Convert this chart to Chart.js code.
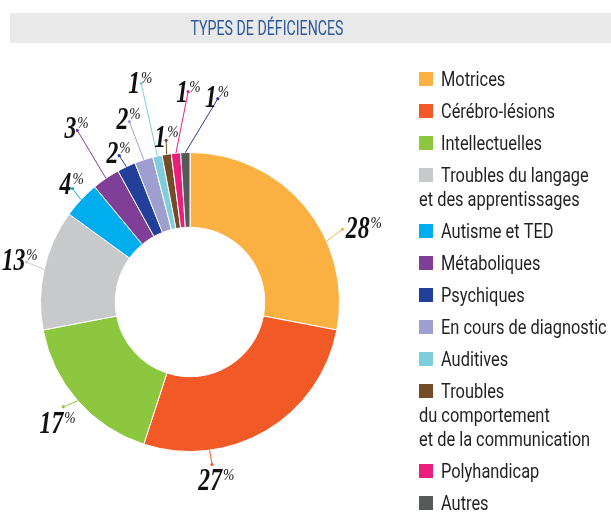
<!DOCTYPE html>
<html>
<head>
<meta charset="utf-8">
<script src="https://cdn.jsdelivr.net/npm/chart.js@4"></script>
<style>
  html, body { margin: 0; padding: 0; background: #fff; }
</style>
</head>
<body>
<canvas id="chart" width="611" height="514"></canvas>
<script>
const title = "TYPES DE DÉFICIENCES";

// legend labels, one entry per line
const categories = [
  ["Motrices"],
  ["Cérébro-lésions"],
  ["Intellectuelles"],
  ["Troubles du langage", "et des apprentissages"],
  ["Autisme et TED"],
  ["Métaboliques"],
  ["Psychiques"],
  ["En cours de diagnostic"],
  ["Auditives"],
  ["Troubles", "du comportement", "et de la communication"],
  ["Polyhandicap"],
  ["Autres"]
];
const shares = [28, 27, 17, 13, 4, 3, 2, 2, 1, 1, 1, 1];
const colors = [
  "#fbb042", "#f15a27", "#8dc63f", "#c8c9cb", "#00aeef", "#7f3f98",
  "#22409a", "#9f9fcf", "#80cedb", "#754c28", "#ec1e7c", "#58595b"
];

// leader layout: where it leaves the slice (fraction along the arc),
// where the dot sits (clock angle, radius as multiple of the outer radius),
// and the number's right edge / baseline offset from the dot
const leaders = [
  { at: 0.655, angle: 64.5, r: 1.13, dx: 27, dy: 9 },
  { at: 0.737, angle: 172.3, r: 1.097, dx: 10, dy: 25 },
  { at: 0.5, angle: 230.4, r: 1.10, dx: 0, dy: 26 },
  { at: 0.5, angle: 283.7, r: 1.127, dx: -1, dy: 8 },
  { at: 0.5, angle: 314, r: 1.093, dx: -1, dy: 6 },
  { at: 0.5, angle: 326.7, r: 1.373, dx: -1, dy: 8 },
  { at: 0.5, angle: 334.2, r: 1.087, dx: -1, dy: 7 },
  { at: 0.5, angle: 341.4, r: 1.273, dx: -1, dy: 7 },
  { at: 0.5, angle: 347.4, r: 1.5, dx: -1, dy: 10 },
  { at: 0.5, angle: 351.6, r: 1.093, dx: 0, dy: 7 },
  { at: 0.5, angle: 359.5, r: 1.407, dx: 0, dy: 10 },
  { at: 0.5, angle: 7.8, r: 1.373, dx: -1, dy: 8, color: "#2b3990" }
];

function scaledText(ctx, txt, x, y, sx, align) {
  ctx.save();
  ctx.translate(x, y);
  ctx.scale(sx, 1);
  ctx.textAlign = align;
  ctx.fillText(txt, 0, 0);
  ctx.restore();
}

const decorations = {
  id: "decorations",
  beforeDraw(chart) {
    const ctx = chart.ctx;
    ctx.save();
    ctx.fillStyle = "#e9e9ea";
    ctx.fillRect(10, 13, 601, 30);
    ctx.fillStyle = "#2e5a9a";
    ctx.font = "20px Roboto";
    ctx.textBaseline = "alphabetic";
    const w = ctx.measureText(title).width;
    scaledText(ctx, title, 267, 35, 153 / w, "center");
    ctx.restore();
  },
  afterDatasetsDraw(chart) {
    const ctx = chart.ctx;
    const meta = chart.getDatasetMeta(0);
    ctx.save();
    meta.data.forEach((arc, i) => {
      const L = leaders[i];
      const p = arc.getProps(["x", "y", "startAngle", "endAngle", "outerRadius"], true);
      const a0 = p.startAngle + (p.endAngle - p.startAngle) * L.at;
      const sx = p.x + Math.cos(a0) * p.outerRadius;
      const sy = p.y + Math.sin(a0) * p.outerRadius;
      const a1 = (L.angle - 90) * Math.PI / 180;
      const ex = p.x + Math.cos(a1) * p.outerRadius * L.r;
      const ey = p.y + Math.sin(a1) * p.outerRadius * L.r;

      ctx.strokeStyle = L.color || colors[i];
      ctx.fillStyle = L.color || colors[i];
      ctx.lineWidth = 1;
      ctx.beginPath();
      ctx.moveTo(sx, sy);
      ctx.lineTo(ex, ey);
      ctx.stroke();
      ctx.beginPath();
      ctx.arc(ex, ey, 1.6, 0, Math.PI * 2);
      ctx.fill();

      ctx.fillStyle = "#111";
      ctx.textBaseline = "alphabetic";
      ctx.font = "bold italic 32px 'Liberation Serif'";
      scaledText(ctx, String(shares[i]), ex + L.dx, ey + L.dy, 0.74, "right");
      ctx.font = "italic 16px 'Liberation Serif'";
      scaledText(ctx, "%", ex + L.dx + 1, ey + L.dy - 10, 0.85, "left");
    });
    ctx.restore();
  },
  afterDraw(chart) {
    const ctx = chart.ctx;
    ctx.save();
    ctx.font = "20px Roboto";
    ctx.textBaseline = "alphabetic";
    let top = 72;
    categories.forEach((lines, i) => {
      ctx.fillStyle = chart.data.datasets[0].backgroundColor[i];
      ctx.fillRect(419, top, 14, 14);
      ctx.fillStyle = "#231f20";
      lines.forEach((line, k) => {
        scaledText(ctx, line, k === 0 ? 441 : 419, top + 14 + k * 24, 0.82, "left");
      });
      top += 32 + 24 * (lines.length - 1);
    });
    ctx.restore();
  }
};

new Chart(document.getElementById("chart"), {
  type: "doughnut",
  data: {
    labels: categories.map(c => c.join(" ")),
    datasets: [{
      data: shares,
      backgroundColor: colors,
      borderColor: "#fff",
      borderWidth: 1
    }]
  },
  options: {
    responsive: false,
    animation: false,
    devicePixelRatio: 1,
    cutout: "50%",
    layout: { padding: { left: 40, right: 271, top: 152, bottom: 62 } },
    plugins: {
      legend: { display: false },
      tooltip: { enabled: false }
    }
  },
  plugins: [decorations]
});
</script>
</body>
</html>
